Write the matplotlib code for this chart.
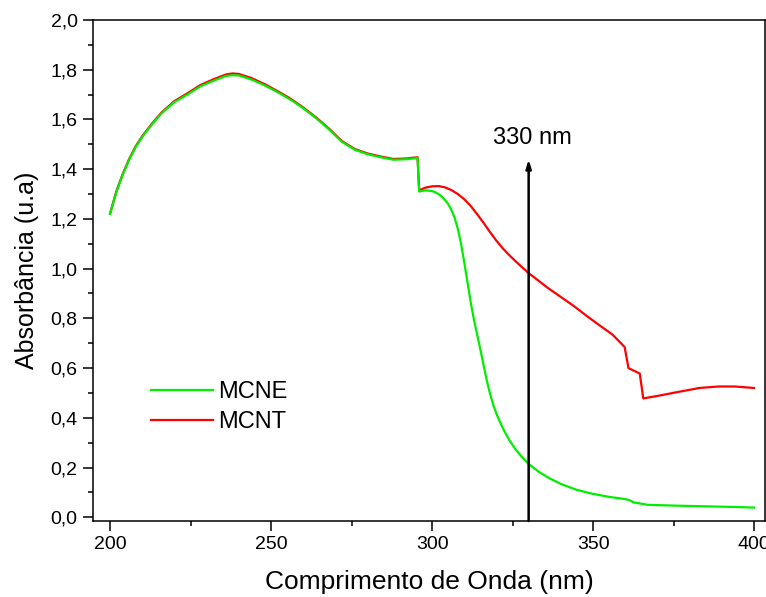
import matplotlib
matplotlib.use("Agg")
import matplotlib.pyplot as plt
from matplotlib.ticker import MultipleLocator, FuncFormatter

plt.rcParams['font.family'] = ['Liberation Sans', 'DejaVu Sans']

# ---- data ----
wl_common = [200, 202, 204, 206, 208, 210, 213, 216, 220, 224, 228, 232, 236, 238,
             240, 244, 248, 252, 256, 260, 264, 268, 272, 276, 280, 284, 288, 292, 295.5]
mcne_common = [1.22, 1.31, 1.38, 1.44, 1.49, 1.53, 1.58, 1.625, 1.67, 1.70, 1.733, 1.755,
               1.775, 1.778, 1.777, 1.76, 1.737, 1.71, 1.68, 1.645, 1.605, 1.56, 1.51,
               1.478, 1.46, 1.448, 1.438, 1.44, 1.445]
mcnt_common = [1.222, 1.313, 1.383, 1.443, 1.493, 1.533, 1.583, 1.628, 1.674, 1.705, 1.738,
               1.761, 1.781, 1.785, 1.783, 1.766, 1.742, 1.714, 1.684, 1.648, 1.608, 1.563,
               1.513, 1.481, 1.463, 1.451, 1.441, 1.443, 1.448]

wl_mcne_tail = [296, 298, 300, 301, 302, 303, 304, 305, 306, 307, 308, 309, 310, 311, 312,
                313, 314, 315, 316, 317, 318, 319, 320, 321, 322, 323, 324, 326, 328, 330,
                333, 336, 340, 345, 350, 355, 360, 361.5, 362.5, 367, 375, 385, 395, 400]
mcne_tail = [1.31, 1.315, 1.312, 1.307, 1.30, 1.29, 1.276, 1.26, 1.236, 1.205, 1.16, 1.10,
             1.025, 0.945, 0.865, 0.795, 0.735, 0.675, 0.612, 0.55, 0.497, 0.452, 0.416,
             0.386, 0.358, 0.333, 0.31, 0.272, 0.241, 0.214, 0.184, 0.16, 0.134, 0.11,
             0.094, 0.082, 0.073, 0.068, 0.06, 0.05, 0.047, 0.044, 0.041, 0.039]

wl_mcnt_tail = [296, 298, 300, 302, 304, 306, 308, 310, 312, 314, 316, 318, 320, 322, 324,
                326, 328, 330, 333, 336, 340, 344, 348, 352, 356, 359.8, 361, 364.5, 365.6,
                370, 376, 383, 389, 394, 400]
mcnt_tail = [1.315, 1.326, 1.331, 1.332, 1.327, 1.316, 1.30, 1.279, 1.252, 1.219, 1.184,
             1.147, 1.112, 1.081, 1.054, 1.029, 1.005, 0.982, 0.952, 0.922, 0.886, 0.85,
             0.81, 0.772, 0.735, 0.685, 0.60, 0.578, 0.478, 0.488, 0.503, 0.52, 0.526,
             0.526, 0.52]

mark_wl = 330
mark_top = 1.44
mark_label = "330 nm"

wl_mcne = wl_common + wl_mcne_tail
mcne = mcne_common + mcne_tail
wl_mcnt = wl_common + wl_mcnt_tail
mcnt = mcnt_common + mcnt_tail

# ---- figure ----
fig = plt.figure(figsize=(7.66, 5.97), dpi=100)
ax = fig.add_axes([93/766, 76/597, 672/766, 501/597])

l_t, = ax.plot(wl_mcnt, mcnt, color='#ff0000', lw=1.6, label='MCNT')
l_e, = ax.plot(wl_mcne, mcne, color='#00ee00', lw=1.6, label='MCNE')

ax.annotate('', xy=(mark_wl, mark_top), xytext=(mark_wl, -0.015),
            arrowprops=dict(arrowstyle='-|>,head_length=0.5,head_width=0.15', color='black',
                            lw=1.8, shrinkA=0, shrinkB=0))
ax.text(mark_wl + 1, 1.527, mark_label, ha='center', va='center', fontsize=17)

ax.set_xlim(194.7, 403.4)
ax.set_ylim(-0.015, 2.0)

ax.xaxis.set_major_locator(MultipleLocator(50))
ax.xaxis.set_minor_locator(MultipleLocator(25))
ax.yaxis.set_major_locator(MultipleLocator(0.2))
ax.yaxis.set_minor_locator(MultipleLocator(0.1))
ax.yaxis.set_major_formatter(FuncFormatter(lambda v, p: f"{v:.1f}".replace('.', ',')))

ax.tick_params(which='major', direction='out', length=7, width=1.1, labelsize=14, pad=4)
ax.tick_params(which='minor', direction='out', length=3.6, width=1.1)
ax.tick_params(top=False, right=False)
for s in ax.spines.values():
    s.set_linewidth(1.1)

ax.set_xlabel('Comprimento de Onda (nm)', fontsize=19, labelpad=12)
ax.set_ylabel('Absorbância (u.a)', fontsize=18, labelpad=8)

leg = ax.legend([l_e, l_t], ['MCNE', 'MCNT'], loc='upper left',
                bbox_to_anchor=(0.055, 0.322), frameon=False, fontsize=17,
                handlelength=2.6, handletextpad=0.25, labelspacing=0.36)

fig.savefig('out.png', dpi=100)
